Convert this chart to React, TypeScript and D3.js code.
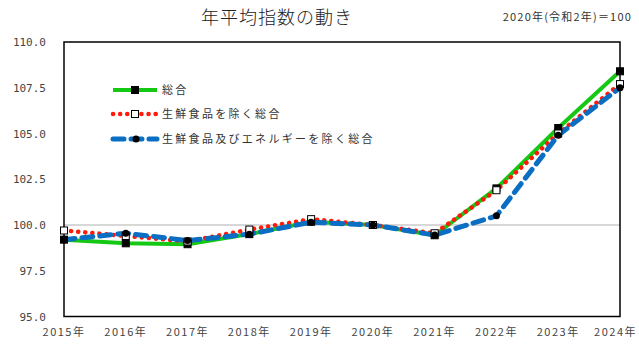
import * as d3 from 'd3'

const years = ['2015年', '2016年', '2017年', '2018年', '2019年', '2020年', '2021年', '2022年', '2023年', '2024年']
const sogo = [99.2, 99.0, 98.95, 99.5, 100.18, 100.0, 99.44, 102.0, 105.3, 108.4]
const excFresh = [99.7, 99.4, 99.1, 99.75, 100.32, 100.0, 99.55, 101.9, 105.0, 107.7]
const excFreshEnergy = [99.2, 99.55, 99.15, 99.5, 100.15, 100.0, 99.45, 100.5, 104.9, 107.5]
const yTicks = [95, 97.5, 100, 102.5, 105, 107.5, 110]
const legendLabels = ['総合', '生鮮食品を除く総合', '生鮮食品及びエネルギーを除く総合']

const W = 639
const H = 358
const M = { left: 64, right: 620, top: 42, bottom: 316.5 }

const GREEN = '#14c814'
const RED = '#ff1a0a'
const BLUE = '#0a6ec3'
const FONT = "'Noto Sans CJK JP', sans-serif"

export default function App() {
  const x = d3.scalePoint<string>().domain(years).range([M.left, M.right])
  const y = d3.scaleLinear().domain([95, 110]).range([M.bottom, M.top])

  const line = d3.line<number>()
    .x((d, i) => x(years[i]) as number)
    .y(d => y(d))

  const series = [
    { data: sogo, color: GREEN, width: 4, dash: undefined as string | undefined, cap: 'butt' },
    { data: excFresh, color: RED, width: 4.5, dash: '0.1 7', cap: 'round' },
    { data: excFreshEnergy, color: BLUE, width: 5, dash: '11 7', cap: 'round' },
  ]

  const square = (cx: number, cy: number, fill: string, key: string, s = 7) => (
    <rect key={key} x={cx - s / 2} y={cy - s / 2} width={s} height={s} fill={fill} stroke="#000" strokeWidth={1} />
  )

  const legendY = [90, 114, 139]

  return (
    <div style={{ position: 'absolute', left: 0, top: 0 }}>
      <svg width={W} height={H} style={{ display: 'block', background: '#fff' }}>
        {/* title */}
        <text x={277} y={24} textAnchor="middle" fontFamily={FONT} fontSize={18} fontWeight={300} fill="#222" letterSpacing={1}>年平均指数の動き</text>
        <text x={632} y={21} textAnchor="end" fontFamily={FONT} fontSize={11} fill="#333" letterSpacing={1.2}>2020年(令和2年)＝100</text>

        {/* 100 reference line */}
        <line x1={M.left} x2={M.right} y1={y(100)} y2={y(100)} stroke="#b0b0b0" strokeWidth={1.2} />

        {/* frame */}
        <rect x={M.left} y={M.top} width={M.right - M.left} height={M.bottom - M.top} fill="none" stroke="#000" strokeWidth={1.5} />

        {/* y tick labels */}
        {yTicks.map(t => (
          <text key={t} x={46} y={y(t) + 4} textAnchor="end" fontFamily="'DejaVu Sans Mono', monospace" fontSize={11} fill="#444">
            {t.toFixed(1)}
          </text>
        ))}

        {/* x tick labels (last one pulled in so it stays on the page) */}
        {years.map((yr, i) => {
          const last = i === years.length - 1
          return (
            <text key={yr} x={last ? 637 : (x(yr) as number)} y={336} textAnchor={last ? 'end' : 'middle'}
              fontFamily={FONT} fontSize={11} fill="#444" letterSpacing={1.5}>
              {yr}
            </text>
          )
        })}

        {/* lines */}
        {series.map((s, i) => (
          <path key={i} d={line(s.data) ?? ''} fill="none" stroke={s.color} strokeWidth={s.width}
            strokeDasharray={s.dash} strokeLinecap={s.cap as any} strokeLinejoin="round" />
        ))}

        {/* markers */}
        {sogo.map((v, i) => square(x(years[i]) as number, y(v), '#000', 'a' + i))}
        {excFresh.map((v, i) => square(x(years[i]) as number, y(v), '#fff', 'b' + i))}
        {excFreshEnergy.map((v, i) => (
          <circle key={'c' + i} cx={x(years[i]) as number} cy={y(v)} r={3.5} fill="#000" />
        ))}

        {/* legend */}
        {series.map((s, i) => (
          <g key={'lg' + i}>
            <line x1={113} x2={157} y1={legendY[i]} y2={legendY[i]} stroke={s.color} strokeWidth={s.width}
              strokeDasharray={s.dash} strokeLinecap={s.cap as any} />
            {i === 0 && square(135, legendY[i], '#000', 'la')}
            {i === 1 && square(135, legendY[i], '#fff', 'lb')}
            {i === 2 && <circle cx={136} cy={legendY[i]} r={3.5} fill="#000" />}
            <text x={162} y={legendY[i] + 4} fontFamily={FONT} fontSize={11} fill="#333" letterSpacing={2.3}>
              {legendLabels[i]}
            </text>
          </g>
        ))}
      </svg>
    </div>
  )
}
